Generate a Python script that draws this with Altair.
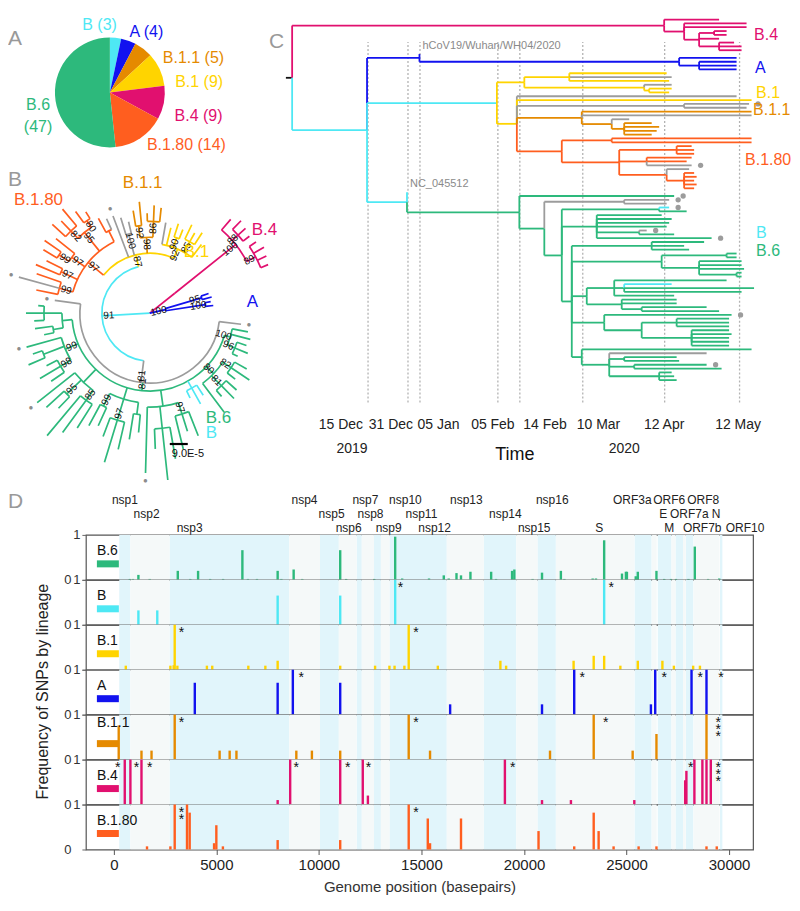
import altair as alt
import pandas as pd

FONT = "Liberation Sans"

# ======================= DATA =======================
# Panel A: sequences per lineage
pie_lineages = ["B", "A", "B.1.1", "B.1", "B.4", "B.1.80", "B.6"]
pie_counts = [3, 4, 5, 9, 9, 14, 47]

# lineage colours
color_lineages = ["B.6", "B", "B.1", "A", "B.1.1", "B.4", "B.1.80", "gray", "black"]
color_values = ["#2db97c", "#4ee8f4", "#ffd400", "#1212ef", "#e58a00", "#e1106f", "#ff5e1f", "#9c9c9c", "#111111"]

# Panel C time axis (days after 15 Dec 2019)
time_tick_days = [0, 16, 21, 52, 61, 86, 119, 149]
time_tick_text = ["15 Dec", "31 Dec", "05 Jan", "05 Feb", "14 Feb", "10 Mar", "12 Apr", "12 May"]
year_text = ["2019", "2020"]
year_anchor_days = [-6, 103]

# Panel D genes
gene_names = ["nsp1", "nsp2", "nsp3", "nsp4", "nsp5", "nsp6", "nsp7", "nsp8", "nsp9", "nsp10", "nsp11", "nsp12",
              "nsp13", "nsp14", "nsp15", "nsp16", "S", "ORF3a", "E", "M", "ORF6", "ORF7a", "ORF7b", "ORF8", "N", "ORF10"]
gene_start = [266, 806, 2720, 8555, 10055, 10973, 11843, 12092, 12686, 13025, 13442, 13442,
              16237, 18040, 19621, 20659, 21563, 25393, 26245, 26523, 27202, 27394, 27756, 27894, 28274, 29558]
gene_end = [805, 2719, 8554, 10054, 10972, 11842, 12091, 12685, 13024, 13441, 13480, 16236,
            18039, 19620, 20658, 21552, 25384, 26220, 26472, 27191, 27387, 27759, 27887, 28259, 29533, 29674]
gene_label_bp = [540, 1600, 3700, 9300, 10620, 11450, 12270, 12520, 13400, 14220, 15000, 15640,
                 17190, 19090, 20500, 21380, 23670, 25280, 26790, 27080, 27080, 28060, 28690, 28740, 29370, 30780]
gene_label_row = [0, 1, 2, 0, 1, 2, 0, 1, 2, 0, 1, 2, 0, 1, 2, 0, 2, 0, 1, 2, 0, 1, 2, 0, 1, 2]

row_lineages = ["B.6", "B", "B.1", "A", "B.1.1", "B.4", "B.1.80"]

snp_pos_B6 = [780, 930, 1200, 1750, 3120, 3730, 4110, 4700, 5330, 6270, 6540, 6980, 7990, 8170, 8770, 9190,
              11040, 11330, 12700, 13720, 14060, 15370, 16090, 16330, 16710, 16930, 17390, 18400, 18640, 19420,
              19530, 20420, 20880, 21800, 21970, 23350, 23510, 23910, 24780, 24970, 25020, 25450, 25550, 26460,
              26840, 27170, 27410, 28020, 28330, 28980, 29520]
snp_freq_B6 = [0.02, 0.02, 0.11, 0.02, 0.2, 0.02, 0.2, 0.02, 0.02, 0.66, 0.02, 0.02, 0.2, 0.02, 0.23, 0.02,
               0.66, 0.02, 0.02, 0.96, 0.03, 0.03, 0.1, 0.03, 0.15, 0.1, 0.18, 0.18, 0.02, 0.2,
               0.23, 0.02, 0.16, 0.2, 0.02, 0.03, 0.03, 0.88, 0.14, 0.18, 0.18, 0.08, 0.18, 0.2,
               0.02, 0.02, 0.02, 0.02, 0.74, 0.02, 0.03]
star_pos_B6, star_n_B6 = [], []

snp_pos_B = [1200, 2120, 7990, 11040, 13720, 23910]
snp_freq_B = [0.32, 0.32, 0.65, 0.65, 1.0, 1.0]
star_pos_B, star_n_B = [13980, 24260], [1, 1]

snp_pos_B1 = [585, 2760, 2920, 2970, 3100, 4540, 4800, 6560, 7390, 7990, 11040, 12740, 13440, 13690, 14170,
              14380, 15800, 18850, 19130, 22420, 23400, 23910, 24700, 25550, 26750, 27310, 28250, 28580]
snp_freq_B1 = [0.09, 0.09, 0.1, 1.0, 0.09, 0.09, 0.09, 0.09, 0.09, 0.2, 0.09, 0.09, 0.09, 0.09, 0.09,
               1.0, 0.09, 0.2, 0.09, 0.2, 0.31, 0.31, 0.09, 0.2, 0.2, 0.09, 0.09, 0.09]
star_pos_B1, star_n_B1 = [3300, 14740], [1, 1]

snp_pos_A = [3950, 7990, 8730, 11040, 16400, 20880, 22450, 26190, 26400, 28170, 28900]
snp_freq_A = [0.71, 0.71, 1.0, 0.71, 0.23, 0.23, 1.0, 0.23, 1.0, 1.0, 1.0]
star_pos_A, star_n_A = [9140, 22840, 26840, 28590, 29600], [1, 1, 1, 1, 1]

snp_pos_B11 = [240, 1350, 1840, 2970, 5160, 5650, 5980, 8900, 9660, 11040, 14380, 15420, 21270, 23400,
               25300, 26460, 28900]
snp_freq_B11 = [0.76, 0.2, 0.2, 1.0, 0.2, 0.2, 0.2, 0.2, 0.2, 0.2, 1.0, 0.2, 0.2, 1.0, 0.2, 0.57, 1.0]
star_pos_B11, star_n_B11 = [3300, 14740, 23990, 29470], [1, 1, 1, 3]

snp_pos_B4 = [535, 810, 1350, 7990, 8600, 11040, 12140, 12390, 19070, 20880, 22290, 25380, 27860, 27920,
              28310, 28700, 28900, 29110]
snp_freq_B4 = [1.0, 1.0, 1.0, 0.1, 1.0, 1.0, 1.0, 0.2, 1.0, 0.1, 0.1, 0.1, 0.54, 0.75, 1.0, 1.0, 1.0, 1.0]
star_pos_B4, star_n_B4 = [195, 1105, 1750, 8900, 11410, 12420, 19450, 28130, 29470], [1, 1, 1, 1, 1, 1, 1, 1, 3]

snp_pos_B180 = [1620, 2760, 2970, 3570, 3700, 4890, 5000, 5320, 7990, 11040, 14380, 15310, 15420, 16930,
                20710, 22450, 23400, 23640, 24370, 25590, 26460, 28900, 29400]
snp_freq_B180 = [0.07, 0.07, 1.0, 1.0, 0.82, 0.14, 0.54, 0.07, 0.21, 0.21, 1.0, 0.69, 0.14, 0.69,
                 0.41, 0.07, 0.82, 0.41, 0.07, 0.07, 0.07, 0.07, 0.07]
star_pos_B180, star_n_B180 = [3300, 14740], [2, 1]

snp_tables = {
    "B.6": (snp_pos_B6, snp_freq_B6, star_pos_B6, star_n_B6),
    "B": (snp_pos_B, snp_freq_B, star_pos_B, star_n_B),
    "B.1": (snp_pos_B1, snp_freq_B1, star_pos_B1, star_n_B1),
    "A": (snp_pos_A, snp_freq_A, star_pos_A, star_n_A),
    "B.1.1": (snp_pos_B11, snp_freq_B11, star_pos_B11, star_n_B11),
    "B.4": (snp_pos_B4, snp_freq_B4, star_pos_B4, star_n_B4),
    "B.1.80": (snp_pos_B180, snp_freq_B180, star_pos_B180, star_n_B180),
}


# ---------- tree helpers ----------
def N(d, c, *kids, bs=None):
    return {"d": d, "c": c, "k": list(kids), "bs": bs, "dot": False, "lab": None}


def L(d, c, dot=False, lab=None):
    return {"d": d, "c": c, "k": [], "bs": None, "dot": dot, "lab": lab}


def g(d, **kw):
    return L(d, "B.6", **kw)


def gy(d, **kw):
    return L(d, "gray", **kw)


# Panel C: dated tree (node value = days after 15 Dec 2019)
TREE_C = N(-30, "black",
    N(119, "B.4",
        L(141, "B.4"),
        N(127, "B.4",
            L(152, "B.4"), L(152, "B.4"),
            N(133, "B.4",
                N(139, "B.4", L(144, "B.4"), L(144, "B.4")),
                L(141, "B.4"),
                N(141, "B.4", L(147, "B.4"), L(150, "B.4"), L(150, "B.4"))))),
    N(0, "B",
        N(21, "A",
            L(21, "A", lab="hCoV19/Wuhan/WH04/2020"),
            N(125, "A", L(148, "A"), N(133, "A", L(148, "A"), L(148, "A"), L(148, "A")))),
        N(52, "B",
            N(63, "B.1",
                N(81, "B.1", L(120, "B.1"), gy(122), L(121, "B.1")),
                N(111, "B.1", gy(122), N(113, "B.1", L(122, "B.1"), L(121, "B.1")))),
            N(60, "B.1",
                gy(148),
                L(154, "B.1"),
                N(127, "gray", gy(153, dot=True), gy(152)),
                N(86, "B.1.1",
                    L(154, "B.1.1"),
                    gy(154),
                    N(98, "B.1.1", gy(105),
                        N(103, "B.1.1", L(114, "B.1.1"), L(117, "B.1.1"), L(116, "B.1.1"), L(114, "B.1.1")))),
                N(78, "B.1.80",
                    N(98, "B.1.80", L(154, "B.1.80"), L(154, "B.1.80")),
                    N(101, "B.1.80",
                        N(124, "B.1.80", L(130, "B.1.80"), L(131, "B.1.80"), L(131, "B.1.80")),
                        N(112, "B.1.80", L(130, "B.1.80"), L(128, "B.1.80"), gy(130, dot=True)),
                        N(120, "B.1.80", gy(129),
                            N(127, "B.1.80", L(131, "B.1.80"), L(132, "B.1.80"), L(131, "B.1.80"),
                              L(132, "B.1.80"), L(131, "B.1.80"))))))),
        N(16, "B",
            L(16, "B", lab="NC_045512"),
            N(61, "B.6",
                g(123, dot=True),
                N(71, "B.6",
                    N(103, "gray", gy(121, dot=True), gy(120)),
                    N(78, "B.6",
                        N(117, "B.6", L(121, "B", dot=True), g(128)),
                        N(92, "B.6", g(118), g(122), g(121), g(120),
                          N(109, "B.6", gy(112, dot=True), g(123)), g(138, dot=True)),
                        N(82, "B.6",
                            N(114, "B.6", g(135), g(127), g(129)),
                            N(118, "B.6", N(144, "B.6", g(148), g(148)),
                              N(133, "B.6", g(150), g(150), g(151), N(148, "B.6", g(150), g(150)))),
                            N(88, "B.6",
                                N(99, "B.6", g(144), N(103, "B.6", L(122, "B"), g(155), g(150)), g(123)),
                                N(102, "B.6", g(124), g(124), N(110, "B.6", g(136), g(141)))),
                            N(95, "B.6",
                                g(146, dot=True),
                                N(110, "B.6", N(124, "B.6", g(145), g(145), g(145)),
                                  N(130, "B.6", g(145), g(146), g(145), g(145), g(145)))),
                            N(86, "B.6",
                                g(154),
                                N(97, "B.6", gy(136), N(103, "B.6", g(124), g(125)),
                                  N(107, "B.6", g(136, dot=True), g(142)),
                                  N(117, "B.6", g(122), g(123), g(124)))))))))))

# Panel B: maximum-likelihood tree (node value = distance from root, 1e-5 subst./site)
TREE_B = N(0, "B",
    N(24, "B",
        N(35, "gray",
            gy(46, dot=True),
            N(39, "B.6",
                N(42, "B.6", g(50), g(52), N(46, "B.6", g(51), g(53), g(49), bs=96), bs=100),
                N(44, "B.6", N(49, "B.6", g(56), g(60), g(54), bs=82), N(51, "B.6", g(58), g(60), g(55), bs=81), g(62), bs=80),
                N(43, "B", L(49, "B"), L(52, "B"), L(47, "B")),
                N(47, "B.6", N(53, "B.6", g(66), g(62), g(70), bs=97), N(58, "B.6", g(74), g(84), g(68)), g(80, dot=True)),
                N(45, "B.6", N(51, "B.6", g(60), g(64)), N(56, "B.6", g(70), g(78), g(66), bs=97), N(52, "B.6", g(62), g(64), bs=99)),
                N(48, "B.6", N(54, "B.6", g(68), g(74), g(80), bs=85), N(58, "B.6", g(66), g(70), bs=95), g(72, dot=True)),
                N(46, "B.6", N(52, "B.6", g(60), g(64), g(58), bs=98), N(57, "B.6", g(66), g(62)), g(64, dot=True), bs=99),
                N(44, "B.6", N(49, "B.6", g(54), g(58)), N(53, "B.6", g(58), g(62), g(56))),
                bs=81),
            gy(48, dot=True),
            bs=81),
        N(30, "B.1",
            N(40, "B.1.80",
                N(47, "B.1.80", L(58, "B.1.80"), gy(68, dot=True), L(60, "B.1.80"), bs=99),
                N(49, "B.1.80", L(62, "B.1.80"), L(58, "B.1.80"), bs=97),
                N(48, "B.1.80", N(54, "B.1.80", L(62, "B.1.80"), L(64, "B.1.80"), bs=99), L(60, "B.1.80"), bs=97),
                N(52, "B.1.80", N(57, "B.1.80", L(66, "B.1.80"), L(64, "B.1.80"), L(68, "B.1.80"), bs=82),
                  N(56, "B.1.80", L(63, "B.1.80"), L(60, "B.1.80"), bs=80), bs=95),
                N(46, "B.1.80", L(54, "B.1.80"), gy(52)),
                bs=97),
            gy(52, dot=True),
            N(41, "gray", gy(50), gy(47), bs=100),
            N(38, "B.1.1", N(44, "B.1.1", L(52, "B.1.1"), L(56, "B.1.1"), bs=92),
              N(46, "B.1.1", L(50, "B.1.1"), L(54, "B.1.1"), L(53, "B.1.1"), bs=86), bs=98),
            N(35, "B.1", gy(46), L(44, "B.1"), N(40, "B.1", L(47, "B.1"), L(45, "B.1"), bs=90),
              N(41, "B.1", L(49, "B.1"), L(46, "B.1"), L(48, "B.1"), bs=85), L(43, "B.1"), bs=92),
            bs=87),
        bs=91),
    N(16, "B.4",
        N(55, "B.4", L(62, "B.4"),
          N(59, "B.4", L(65, "B.4"), L(64, "B.4"), L(63, "B.4"), bs=88),
          N(60, "B.4", L(64, "B.4"), L(66, "B.4"), L(65, "B.4"), L(64, "B.4"), bs=89), bs=100)),
    N(8, "A", N(27, "A", L(31, "A"), L(32, "A"), bs=95), N(28, "A", L(31, "A"), L(32, "A"), bs=100), bs=100))


# ======================= LAYOUT HELPERS =======================
def rect_layout(root, stem):
    leaves, segs = [], []
    cnt = [0]

    def place(n):
        if n["k"]:
            for k in n["k"]:
                place(k)
            n["y"] = (n["k"][0]["y"] + n["k"][-1]["y"]) / 2
        else:
            n["y"] = cnt[0]
            cnt[0] += 1
            leaves.append(n)

    place(root)

    def emit(n, pdays):
        segs.append({"x": pdays, "x2": n["d"], "y": n["y"], "y2": n["y"], "c": n["c"]})
        for k in n["k"]:
            segs.append({"x": n["d"], "x2": n["d"], "y": n["y"], "y2": k["y"], "c": k["c"]})
            emit(k, n["d"])

    emit(root, root["d"] - stem)
    return segs, leaves, cnt[0]


def polar_layout(root, theta0, span):
    leaves = []

    def collect(n):
        if n["k"]:
            for k in n["k"]:
                collect(k)
        else:
            leaves.append(n)

    collect(root)
    step = span / len(leaves)
    for i, lf in enumerate(leaves):
        lf["t"] = theta0 + (i + 0.5) * step

    def ang(n):
        if n["k"]:
            for k in n["k"]:
                ang(k)
            n["t"] = (n["k"][0]["t"] + n["k"][-1]["t"]) / 2

    ang(root)
    segs, boots, dots = [], [], []

    def emit(n, pr):
        if pr is not None and n["d"] != pr:
            segs.append({"t": n["t"], "t2": n["t"], "r": pr, "r2": n["d"], "c": n["c"]})
        if n["k"]:
            if n["d"] > 0:
                segs.append({"t": n["k"][0]["t"], "t2": n["k"][-1]["t"], "r": n["d"], "r2": n["d"], "c": n["c"]})
            for k in n["k"]:
                emit(k, n["d"])
        if n["bs"] is not None:
            boots.append({"t": n["t"], "r": n["d"] - 3.5, "bs": str(n["bs"])})
        if n["dot"]:
            dots.append({"t": n["t"], "r": n["d"] + 4})

    emit(root, None)
    return segs, boots, dots


LIN_SCALE = alt.Scale(domain=color_lineages, range=color_values)
ONE = pd.DataFrame({"o": [0]})
NOFRAME = alt.ViewBackground(stroke="transparent", strokeWidth=0)


def ann(text, x, y, size, color, align="left", baseline="middle", angle=None):
    props = dict(text=text, align=align, baseline=baseline, fontSize=size, color=color, font=FONT)
    if angle is not None:
        props["angle"] = angle
    return alt.Chart(ONE).mark_text(**props).encode(x=alt.value(x), y=alt.value(y))


# ======================= PANEL A (pie) =======================
PIE_CX, PIE_CY = 102, 84
pie_df = pd.DataFrame({"lin": pie_lineages, "n": pie_counts, "i": list(range(len(pie_lineages)))})
pie_df["lab"] = [f"{l}\n({c})" if l == "B.6" else f"{l} ({c})" for l, c in zip(pie_lineages, pie_counts)]
pie_base = alt.Chart(pie_df)
pie_theta = alt.Theta("n:Q", stack=True)
pie_arc = pie_base.mark_arc(outerRadius=55).encode(
    theta=pie_theta, order=alt.Order("i:Q"),
    color=alt.Color("lin:N", scale=LIN_SCALE, legend=None),
    x=alt.value(PIE_CX), y=alt.value(PIE_CY))


def pie_text(names, align, radius, dy=0):
    arr = "[" + ",".join(f"'{n}'" for n in names) + "]"
    return pie_base.transform_calculate(
        t=f"indexof({arr}, datum.lin) >= 0 ? datum.lab : ''"
    ).mark_text(radius=radius, align=align, baseline="middle", dy=dy, fontSize=16, font=FONT,
                lineBreak="\n", lineHeight=22).encode(
        theta=pie_theta, order=alt.Order("i:Q"), text="t:N",
        color=alt.Color("lin:N", scale=LIN_SCALE, legend=None),
        x=alt.value(PIE_CX), y=alt.value(PIE_CY))


pie_layer = alt.layer(
    pie_arc,
    pie_text(["B"], "right", 68),
    pie_text(["A"], "left", 58, dy=-6),
    pie_text(["B.1.1"], "left", 87, dy=34),
    pie_text(["B.1"], "left", 72, dy=20),
    pie_text(["B.4"], "left", 66, dy=11),
    pie_text(["B.1.80"], "left", 67, dy=-3),
    pie_text(["B.6"], "center", 72, dy=9),
)

# ======================= PANEL B (circular tree) =======================
TCX, TCY = 142, 305
segB, bootB, dotB = polar_layout(TREE_B, 95, 350)
TH = alt.Scale(domain=[0, 360], range=[0, 6.283185307179586])
RS = alt.Scale(type="linear", domain=[0, 100], range=[0, 200], zero=True)

tree_arcs = alt.Chart(pd.DataFrame(segB)).mark_arc(filled=False, strokeWidth=1.7).encode(
    theta=alt.Theta("t:Q", stack=False, scale=TH), theta2="t2:Q",
    radius=alt.Radius("r:Q", stack=False, scale=RS), radius2="r2:Q",
    color=alt.Color("c:N", scale=LIN_SCALE, legend=None),
    x=alt.value(TCX), y=alt.value(TCY))
boot_text = alt.Chart(pd.DataFrame(bootB)).transform_calculate(
    tm="((datum.t % 360) + 360) % 360"
).transform_calculate(
    rot="(datum.tm < 180 ? datum.tm + 270 : datum.tm + 90) % 360"
).mark_text(fontSize=10, font=FONT, color="#111", baseline="middle").encode(
    theta=alt.Theta("t:Q", stack=False, scale=TH),
    radius=alt.Radius("r:Q", stack=False, scale=RS),
    angle=alt.Angle("rot:Q", scale=None), text="bs:N",
    x=alt.value(TCX), y=alt.value(TCY))
dot_text = alt.Chart(pd.DataFrame(dotB)).mark_text(text="●", fontSize=8, color="#8c8c8c").encode(
    theta=alt.Theta("t:Q", stack=False, scale=TH),
    radius=alt.Radius("r:Q", stack=False, scale=RS),
    x=alt.value(TCX), y=alt.value(TCY))
tree_layer = alt.layer(tree_arcs, boot_text, dot_text)

# ======================= PANEL C (time tree) =======================
C0 = 282  # left edge of panel C inside the top chart
segC, leavesC, nC = rect_layout(TREE_C, 2.5)
CX = alt.Scale(domain=[-31, 161], range=[C0, C0 + 480], nice=False, zero=False)
CY = alt.Scale(domain=[0, nC - 1], range=[11, 372], nice=False, zero=False)
c_axis = alt.Axis(values=time_tick_days, grid=True, gridDash=[2, 2], gridColor="#b3b3b3", gridWidth=1.3,
                  labels=False, ticks=False, domain=False, title="Time", titleFontSize=18,
                  titleFontWeight="normal", titleColor="#111", titlePadding=33, titleFont=FONT, titleX=507)
cx = alt.X("x:Q", scale=CX, axis=c_axis)
cy = alt.Y("y:Q", scale=CY, axis=None)

c_rules = alt.Chart(pd.DataFrame(segC)).mark_rule(strokeWidth=1.8).encode(
    x=cx, x2="x2:Q", y=cy, y2="y2:Q",
    color=alt.Color("c:N", scale=LIN_SCALE, legend=None))
leaf_df = pd.DataFrame([{"x": lf["d"], "y": lf["y"], "dot": lf["dot"], "lab": lf["lab"] or ""} for lf in leavesC])
c_dots = alt.Chart(leaf_df).transform_filter("datum.dot").mark_circle(
    size=28, color="#9c9c9c", opacity=1, xOffset=9).encode(x=cx, y=cy)
c_tiplab = alt.Chart(leaf_df).transform_filter("datum.lab != ''").mark_text(
    align="left", baseline="bottom", dx=3, dy=-3, fontSize=11, font=FONT, color="#8a8a8a").encode(
    x=cx, y=cy, text="lab:N")

tick_style = {"15 Dec": ("right", -4), "31 Dec": ("right", 6), "05 Jan": ("left", -2), "05 Feb": ("center", -4),
              "14 Feb": ("left", 4), "10 Mar": ("left", -5), "12 Apr": ("center", 0), "12 May": ("center", -1)}
tick_df = pd.DataFrame({"x": time_tick_days, "txt": time_tick_text})
tick_layers = [
    alt.Chart(tick_df).transform_filter(f"datum.txt == '{t}'").mark_text(
        align=al, dx=dx, baseline="middle", fontSize=14, font=FONT, color="#222").encode(
        x=cx, y=alt.value(417), text="txt:N")
    for t, (al, dx) in tick_style.items()
]
year_layer = alt.Chart(pd.DataFrame({"x": year_anchor_days, "txt": year_text})).mark_text(
    baseline="middle", fontSize=14, font=FONT, color="#222").encode(x=cx, y=alt.value(441), text="txt:N")

top_chart = alt.layer(
    c_rules, c_dots, c_tiplab, *tick_layers, year_layer,
    pie_layer, tree_layer,
    ann("A", 0, 30, 21, "#999999"),
    ann("B", 0, 172, 21, "#999999"),
    ann("B.1.80", 6, 192, 17, "#ff5e1f"),
    ann("B.1.1", 115, 175, 17, "#e58a00"),
    ann("B.1", 176, 244, 17, "#ffd400"),
    ann("B.4", 244, 222, 17, "#e1106f"),
    ann("A", 239, 294, 17, "#1212ef"),
    ann("B.6", 198, 410, 17, "#2db97c"),
    ann("B", 198, 425, 17, "#4ee8f4"),
    alt.Chart(ONE).mark_rule(color="#000", strokeWidth=2.2).encode(
        x=alt.value(162), x2=alt.value(180), y=alt.value(436)),
    ann("9.0E-5", 164, 446, 11, "#111"),
    ann("C", C0 - 13, 33, 21, "#999999", align="center"),
    ann("B.4", C0 + 465, 26, 16, "#e1106f"),
    ann("A", C0 + 466, 60, 16, "#1212ef"),
    ann("B.1", C0 + 467, 85, 16, "#ffd400"),
    ann("B.1.1", C0 + 464, 102, 16, "#e58a00"),
    ann("B.1.80", C0 + 456, 152, 16, "#ff5e1f"),
    ann("B", C0 + 467, 225, 16, "#4ee8f4"),
    ann("B.6", C0 + 467, 243, 16, "#2db97c"),
).resolve_scale(theta="independent", radius="independent").properties(
    width=C0 + 480, height=405, view=NOFRAME)

# ======================= PANEL D (SNP frequencies) =======================
XS = alt.Scale(domain=[-1360, 31170], nice=False, zero=False)
ROW_W, ROW_H = 668, 45
band_rows = []
k = 0
for nm, s, e in zip(gene_names, gene_start, gene_end):
    if nm == "nsp11":
        continue
    band_rows.append({"s": s, "e": e, "kind": "blue" if k % 2 == 0 else "grey"})
    k += 1
bands_df = pd.DataFrame(band_rows)

y_axis = alt.Axis(values=[0, 1], format="d", title=None, labelFontSize=13, labelColor="#333", tickSize=4,
                  tickColor="#666", domain=False, grid=False, labelFont=FONT,
                  labelPadding={"condition": {"test": "datum.value == 1", "value": 2}, "value": 11})
x_axis_bottom = alt.Axis(values=[0, 5000, 10000, 15000, 20000, 25000, 30000], format="d",
                         title="Genome position (basepairs)", labelFontSize=15, titleFontSize=15,
                         titleFontWeight="normal", labelColor="#222", titleColor="#333", tickSize=5,
                         tickColor="#555", domain=False, grid=False, labelPadding=3, titlePadding=7,
                         labelFont=FONT, titleFont=FONT)
label_y = {"B.1.1": 8}


def d_row(lin, bottom):
    pos, freq, spos, sn = snp_tables[lin]
    col = dict(zip(color_lineages, color_values))[lin]
    xax = x_axis_bottom if bottom else None
    bands_b = alt.Chart(bands_df).transform_filter("datum.kind == 'blue'").mark_rect(color="#e1f5fb").encode(
        x=alt.X("s:Q", scale=XS, axis=xax), x2="e:Q")
    bands_g = alt.Chart(bands_df).transform_filter("datum.kind == 'grey'").mark_rect(color="#f5f9f9").encode(
        x=alt.X("s:Q", scale=XS, axis=xax), x2="e:Q")
    bars = alt.Chart(pd.DataFrame({"pos": pos, "freq": freq})).mark_rule(strokeWidth=2.4, color=col).encode(
        x=alt.X("pos:Q", scale=XS, axis=xax),
        y=alt.Y("freq:Q", scale=alt.Scale(domain=[0, 1], nice=False), axis=y_axis),
        y2=alt.datum(0))
    layers = [bands_b, bands_g, bars]
    if spos:
        star_df = pd.DataFrame({"pos": spos, "s": ["\n".join(["*"] * n) for n in sn]})
        layers.append(alt.Chart(star_df).mark_text(baseline="top", fontSize=14, font=FONT, color="#111",
                                                   lineBreak="\n", lineHeight=7).encode(
            x=alt.X("pos:Q", scale=XS, axis=xax), y=alt.YDatum(0.97), text="s:N"))
    layers.append(ann(lin, 11, label_y.get(lin, 16), 14, "#111"))
    layers.append(alt.Chart(ONE).mark_rule(color=col, strokeWidth=7).encode(
        x=alt.value(11), x2=alt.value(33), y=alt.value(29)))
    return alt.layer(*layers).properties(
        width=ROW_W, height=ROW_H, view=alt.ViewBackground(stroke="#555", strokeWidth=1.2))


gene_df = pd.DataFrame({"g": gene_names, "lb": gene_label_bp, "row": gene_label_row})
header = alt.Chart(gene_df).mark_text(fontSize=12, font=FONT, color="#222", baseline="middle").encode(
    x=alt.X("lb:Q", scale=XS, axis=None),
    y=alt.Y("row:Q", scale=alt.Scale(domain=[-1, 3.5], range=[14, 77]), axis=None),
    text="g:N").properties(width=ROW_W, height=63, view=NOFRAME)

rows = [d_row(l, i == len(row_lineages) - 1) for i, l in enumerate(row_lineages)]
spacer = alt.layer(
    ann("D", 0, 30, 21, "#999999"),
    ann("Frequency of SNPs by lineage", 35, 220, 16, "#222", align="center", angle=270),
).properties(width=78, height=63 + 7 * ROW_H, view=NOFRAME)

d_col = alt.vconcat(header, *rows, spacing=0, bounds="flush")
d_block = alt.hconcat(spacer, d_col, spacing=0, bounds="flush")

chart = alt.vconcat(top_chart, d_block, spacing=59, bounds="flush", padding=0).configure(
    font=FONT).configure_view(strokeWidth=0)

chart.save("out.html", embed_options={"renderer": "svg", "actions": False})
